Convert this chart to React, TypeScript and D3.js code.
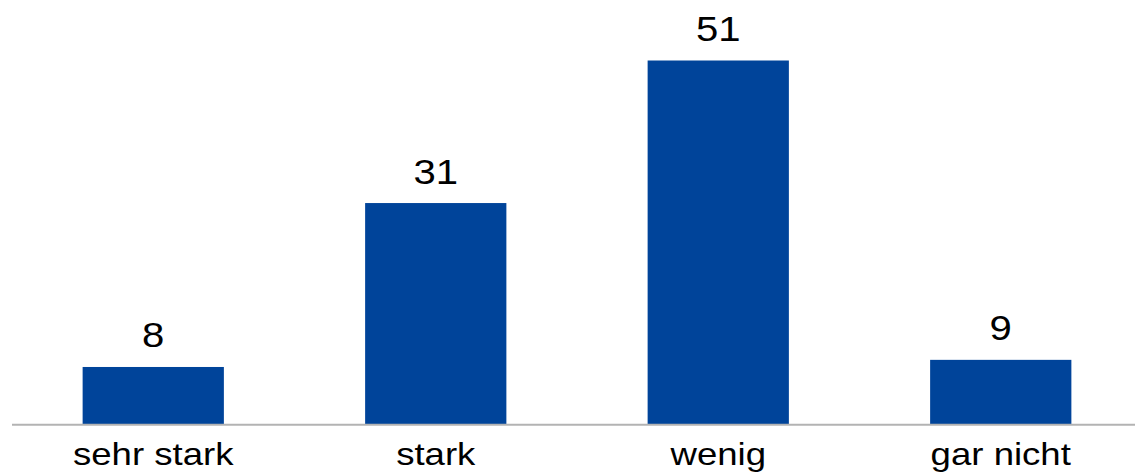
import React from "react";
import * as d3 from "d3";

const categories = ["sehr stark", "stark", "wenig", "gar nicht"];
const values = [8, 31, 51, 9];

const W = 1135;
const H = 476;
const BASE_Y = 424;
const BAR_COLOR = "#00449a";
const FONT = "Arial, 'Liberation Sans', Helvetica, sans-serif";

export default function App() {
  const x = d3
    .scaleBand<string>()
    .domain(categories)
    .range([12, 1142])
    .paddingInner(0.5)
    .paddingOuter(0.25);
  const y = d3.scaleLinear().domain([0, 51]).range([BASE_Y, 60.5]);

  return (
    <svg
      width={W}
      height={H}
      style={{ position: "absolute", left: 0, top: 0, background: "#fff" }}
    >
      {categories.map((c, i) => {
        const bx = x(c) as number;
        const bw = x.bandwidth();
        const cx = bx + bw / 2;
        const top = y(values[i]);
        return (
          <g key={c}>
            <rect x={bx} y={top} width={bw} height={BASE_Y - top} fill={BAR_COLOR} />
            <text
              transform={`translate(${cx},${top - 19.5}) scale(1.13,1)`}
              textAnchor="middle"
              fontFamily={FONT}
              fontSize={35.5}
              fill="#000"
            >
              {values[i]}
            </text>
            <text
              transform={`translate(${cx},${465}) scale(1.18,1)`}
              textAnchor="middle"
              fontFamily={FONT}
              fontSize={31}
              fill="#000"
            >
              {c}
            </text>
          </g>
        );
      })}
      <line x1={12} x2={W} y1={BASE_Y + 0.8} y2={BASE_Y + 0.8} stroke="#b3b3b3" strokeWidth={2} />
    </svg>
  );
}
